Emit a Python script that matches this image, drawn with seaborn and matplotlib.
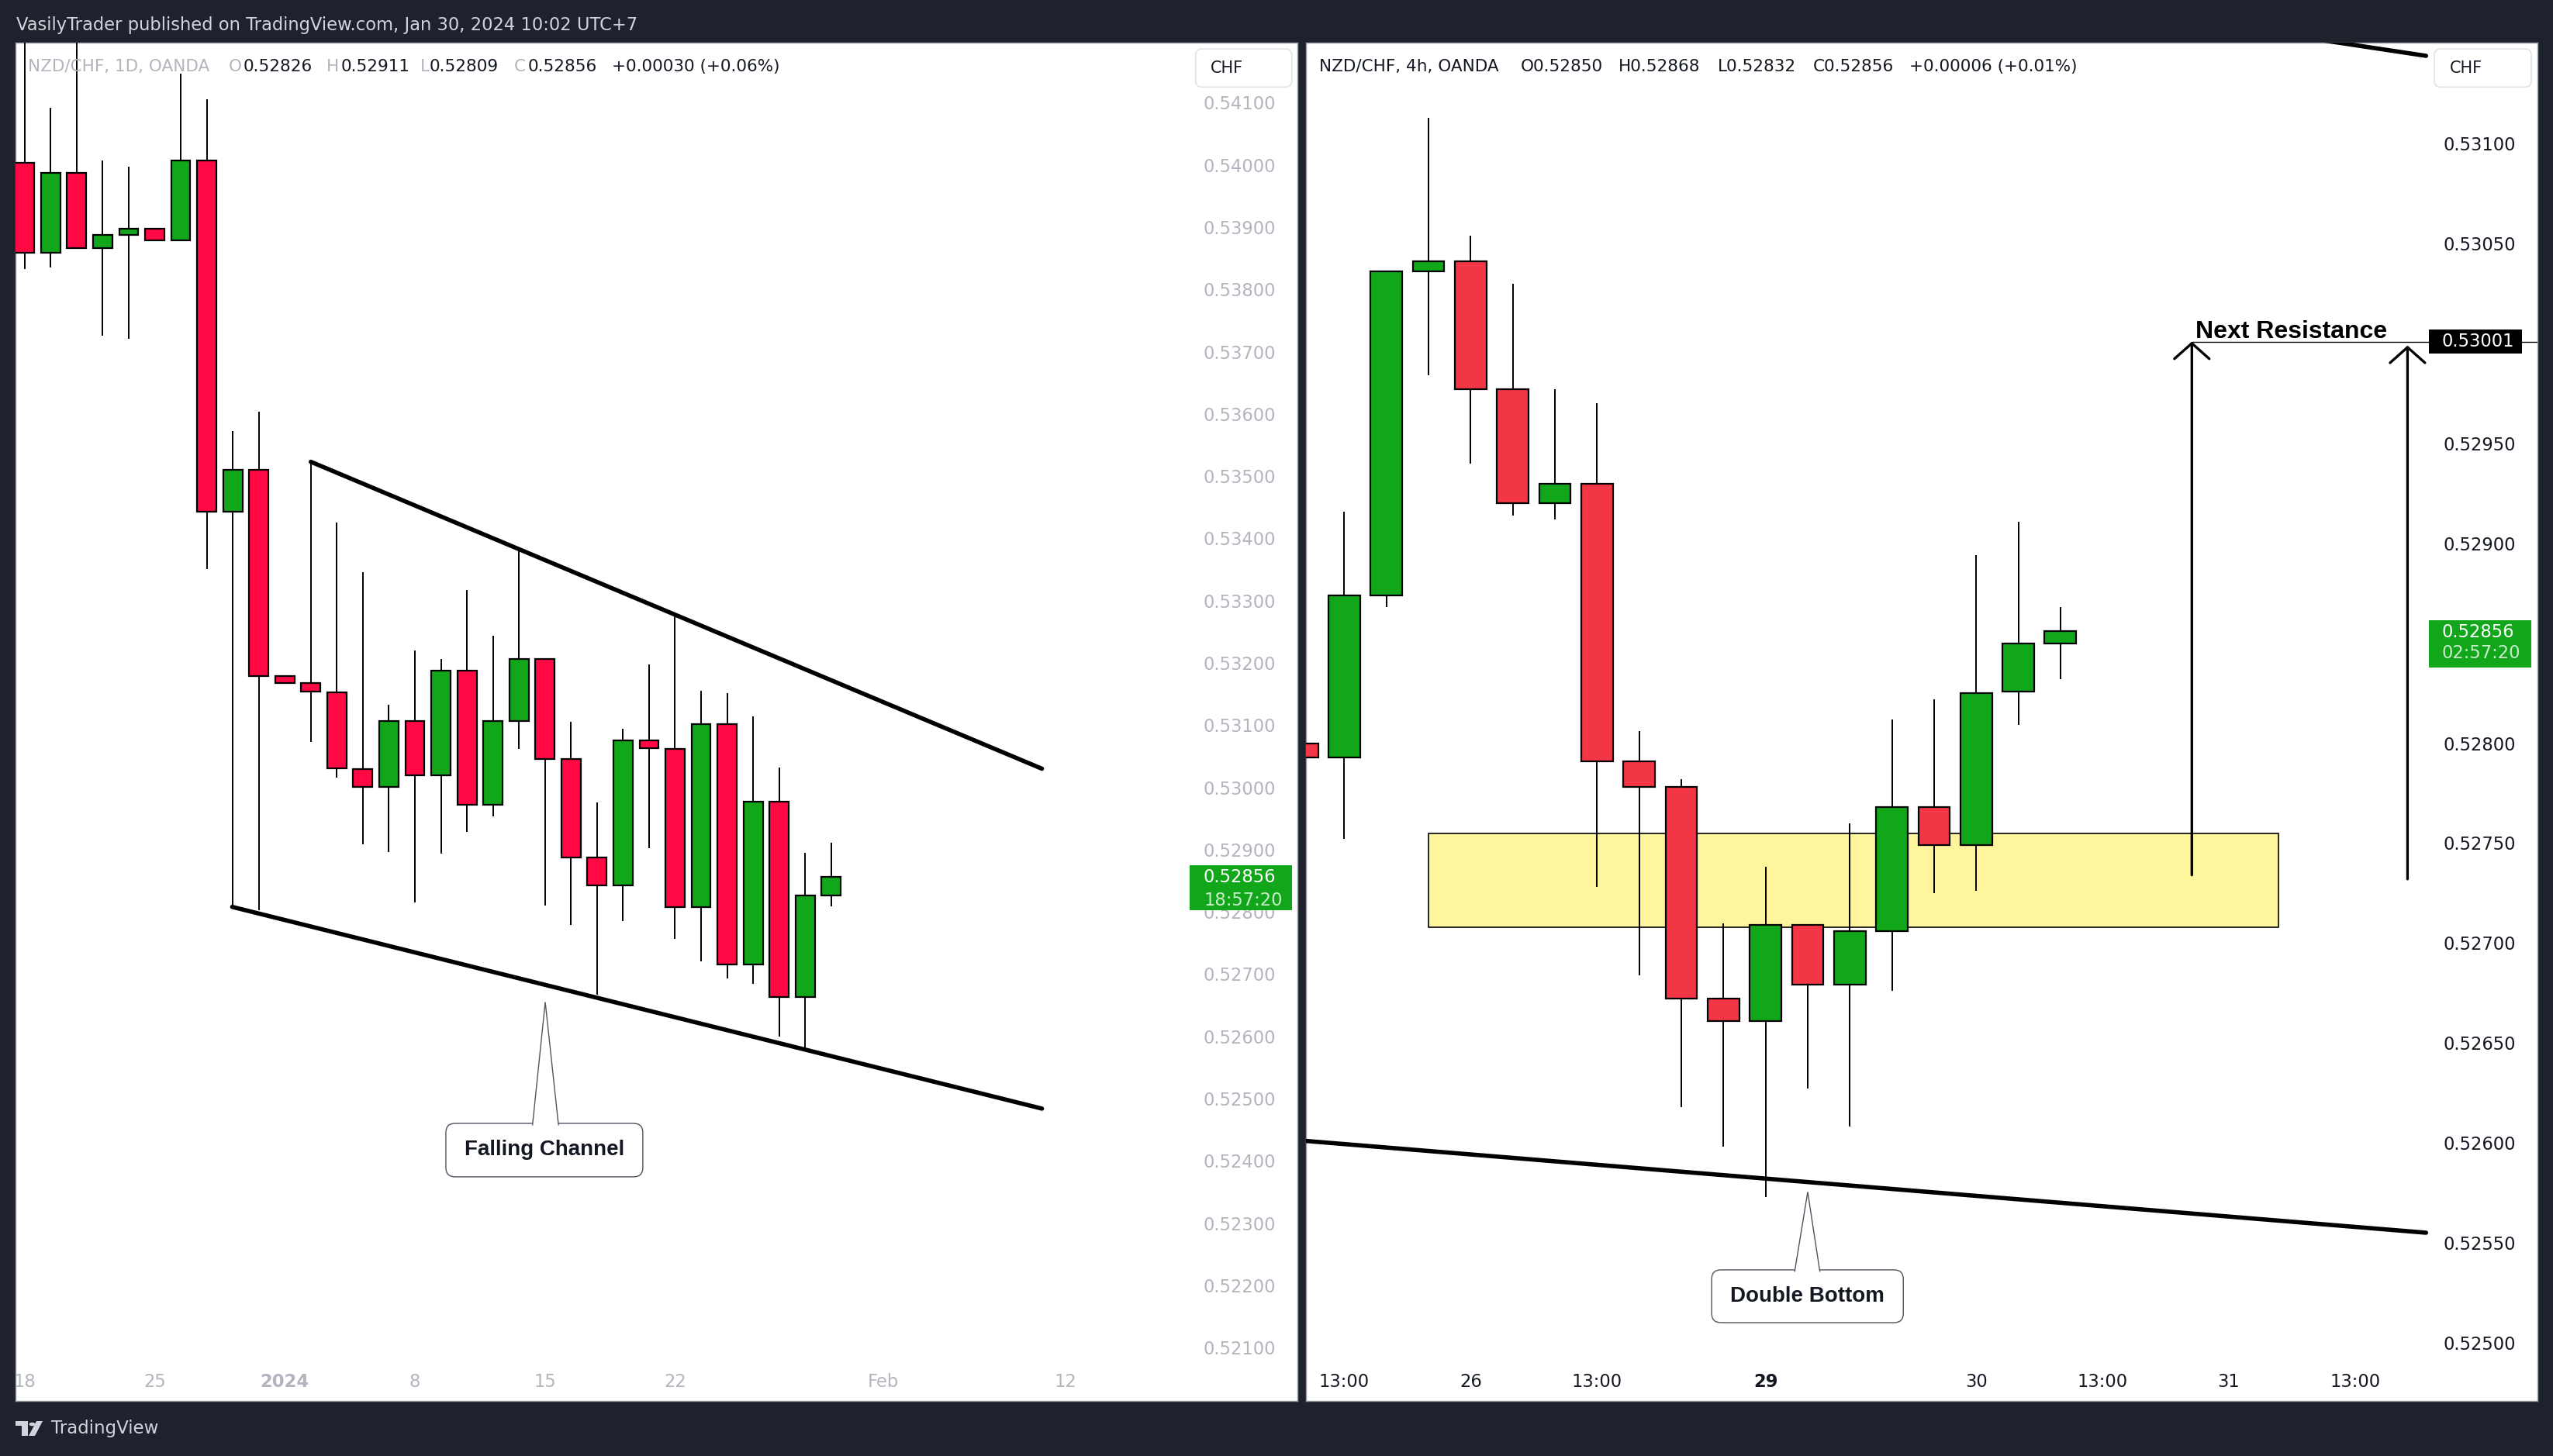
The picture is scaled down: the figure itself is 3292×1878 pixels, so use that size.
import numpy as np
import pandas as pd
import matplotlib.pyplot as plt
import seaborn as sns
from matplotlib.patches import Rectangle, FancyBboxPatch, Polygon, Circle

# --- data: NZD/CHF daily candles (left pane), 18 Dec 2023 .. 30 Jan 2024 ---
d_open = [0.54003, 0.53859, 0.53987, 0.53866, 0.53888, 0.53897, 0.53879, 0.54007,
          0.53443, 0.53510, 0.53179, 0.53167, 0.53153, 0.53030, 0.53001, 0.53107,
          0.53019, 0.53188, 0.52972, 0.53107, 0.53206, 0.53045, 0.52887, 0.52842,
          0.53076, 0.53062, 0.52808, 0.53102, 0.52715, 0.52977, 0.52663, 0.52826]
d_high = [0.54210, 0.54092, 0.54210, 0.54007, 0.53997, 0.53898, 0.54146, 0.54106,
          0.53572, 0.53603, 0.53180, 0.53524, 0.53426, 0.53346, 0.53133, 0.53220,
          0.53206, 0.53317, 0.53244, 0.53379, 0.53207, 0.53105, 0.52976, 0.53094,
          0.53198, 0.53277, 0.53155, 0.53152, 0.53114, 0.53032, 0.52895, 0.52911]
d_low = [0.53833, 0.53835, 0.53866, 0.53725, 0.53720, 0.53878, 0.53879, 0.53351,
         0.52808, 0.52803, 0.53166, 0.53073, 0.53016, 0.52908, 0.52896, 0.52815,
         0.52894, 0.52928, 0.52954, 0.53062, 0.52810, 0.52779, 0.52667, 0.52785,
         0.52902, 0.52757, 0.52720, 0.52693, 0.52684, 0.52600, 0.52576, 0.52809]
d_close = [0.53859, 0.53987, 0.53866, 0.53888, 0.53897, 0.53879, 0.54007, 0.53443,
           0.53510, 0.53179, 0.53167, 0.53154, 0.53031, 0.53001, 0.53107, 0.53019,
           0.53188, 0.52972, 0.53107, 0.53206, 0.53046, 0.52888, 0.52842, 0.53076,
           0.53063, 0.52808, 0.53102, 0.52715, 0.52977, 0.52663, 0.52826, 0.52856]
# trading-day ticks (bar number -> label)
d_tick_bar = [0, 5, 10, 15, 20, 25, 33, 40]
d_tick_lab = ['18', '25', '2024', '8', '15', '22', 'Feb', '12']

# --- data: NZD/CHF 4h candles (right pane), 25 Jan 09:00 .. 30 Jan 09:00 ---
h_open = [0.52800, 0.52793, 0.52874, 0.53036, 0.53041, 0.52977, 0.52920, 0.52930,
          0.52791, 0.52778, 0.52672, 0.52661, 0.52709, 0.52679, 0.52706, 0.52768,
          0.52749, 0.52826, 0.52850]
h_high = [0.52800, 0.52916, 0.53036, 0.53113, 0.53054, 0.53030, 0.52977, 0.52970,
          0.52806, 0.52782, 0.52710, 0.52738, 0.52709, 0.52760, 0.52812, 0.52822,
          0.52894, 0.52911, 0.52868]
h_low = [0.52793, 0.52752, 0.52868, 0.52984, 0.52940, 0.52914, 0.52912, 0.52728,
         0.52684, 0.52618, 0.52598, 0.52573, 0.52627, 0.52608, 0.52676, 0.52725,
         0.52726, 0.52809, 0.52832]
h_close = [0.52793, 0.52874, 0.53036, 0.53041, 0.52977, 0.52920, 0.52930, 0.52791,
           0.52778, 0.52672, 0.52661, 0.52709, 0.52679, 0.52706, 0.52768, 0.52749,
           0.52825, 0.52850, 0.52856]
h_tick_bar = [0, 3, 6, 10, 15, 18, 21, 24]
h_tick_lab = ['13:00', '26', '13:00', '29', '30', '13:00', '31', '13:00']

# price scale labels (the ones hidden behind the price tags are left out)
d_yticks = [0.541, 0.540, 0.539, 0.538, 0.537, 0.536, 0.535, 0.534, 0.533, 0.532,
            0.531, 0.530, 0.529, 0.528, 0.527, 0.526, 0.525, 0.524, 0.523, 0.522, 0.521]
h_yticks = [0.5310, 0.5305, 0.5295, 0.5290, 0.5280, 0.5275, 0.5270, 0.5265,
            0.5260, 0.5255, 0.5250]

# drawings (bar number, price)
chan_up = ([11.0, 39.1], [0.53523, 0.53030])
chan_dn = ([7.98, 39.1], [0.52808, 0.52484])
r_support = ([-0.95, 25.68], [0.52601, 0.52555])
r_top = ([20.0, 25.68], [0.53162, 0.53144])
zone_bars = [1.99, 22.18]
zone_prices = [0.52708, 0.52755]
resistance = 0.53001
arrow_bars = [20.12, 25.24]
arrow_from = [0.52734, 0.52732]
arrow_to = [0.53001, 0.52999]
last_price = 0.52856

BG = '#1E222D'
DARK = '#131722'
GREY = '#B2B5BE'
GREEN = '#12A61A'

sns.set_style('white')
plt.rcParams['font.family'] = ['DejaVu Sans']

W, H = 3292, 1878
fig = plt.figure(figsize=(W / 100, H / 100), dpi=100, facecolor=BG)


def fx(px):
    return px / W


def fy(py):
    return 1 - py / H


axL = fig.add_axes([fx(19.5), fy(1807), (1673 - 19.5) / W, (1807 - 55) / H])
axR = fig.add_axes([fx(1684), fy(1807), (3271.7 - 1684) / W, (1807 - 55) / H])


def candles(ax, x, o, h, l, c, up, down, width):
    o, h, l, c = map(np.asarray, (o, h, l, c))
    col = np.where(c >= o, up, down)
    ax.vlines(x, l, h, color='black', linewidth=1.4, zorder=3)
    ax.bar(x, np.abs(c - o), width, bottom=np.minimum(o, c), color=col,
           edgecolor='black', linewidth=1.6, zorder=4)


def callout(ax, text, bx, by, tip, base, ppx, ppy):
    r = 12 / ppx
    ax.add_patch(FancyBboxPatch((bx[0], by[0]), bx[1] - bx[0], by[1] - by[0],
                                boxstyle=f'round,pad=0,rounding_size={r}',
                                mutation_aspect=ppx / ppy, fc='white',
                                ec='#50535E', lw=1.0, zorder=7))
    yb = by[1] - 2.5 / ppy
    ax.add_patch(Polygon([(base[0], yb), tip, (base[1], yb)], closed=False,
                         fc='white', ec='#50535E', lw=1.0, zorder=8))
    ax.text((bx[0] + bx[1]) / 2, (by[0] + by[1]) / 2, text, ha='center',
            va='center', fontsize=20, fontweight='bold', color=DARK,
            family='Liberation Sans', zorder=9)


# ---------------- left pane (1D) ----------------
dx = np.arange(len(d_open))
candles(axL, dx, d_open, d_high, d_low, d_close, GREEN, '#FF0844', 0.74)
for xs, ys in (chan_up, chan_dn):
    sns.lineplot(x=xs, y=ys, ax=axL, color='black', linewidth=4.0,
                 solid_capstyle='round', zorder=5)
callout(axL, 'Falling Channel', (16.19, 23.76), (0.523744, 0.524603),
        (20.01, 0.526551), (19.52, 20.52), 33.55, 80300)

axL.set_xlim(-0.365, 48.92)
axL.set_ylim(0.520144, 0.541963)

# ---------------- right pane (4h) ----------------
hx = np.arange(len(h_open)) - 1
axR.add_patch(Rectangle((zone_bars[0], zone_prices[0]), zone_bars[1] - zone_bars[0],
                        zone_prices[1] - zone_prices[0], fc='#FFF59D', ec='black',
                        lw=1.2, zorder=2))
candles(axR, hx, h_open, h_high, h_low, h_close, GREEN, '#F23645', 0.75)
for xs, ys in (r_support, r_top):
    sns.lineplot(x=xs, y=ys, ax=axR, color='black', linewidth=4.0,
                 solid_capstyle='round', zorder=5)
for bx, y0, y1 in zip(arrow_bars, arrow_from, arrow_to):
    axR.annotate('', xy=(bx, y1), xytext=(bx, y0),
                 arrowprops=dict(arrowstyle='->,head_length=0.4,head_width=0.45',
                                 lw=2.4, color='black', shrinkA=0, shrinkB=0,
                                 mutation_scale=36), zorder=6)
axR.hlines(resistance, arrow_bars[0], 28.32, color='black', lw=1.0, zorder=6)
axR.text(20.2, 0.530028, 'Next Resistance', ha='left', va='baseline', fontsize=23,
         fontweight='bold', color='black', family='Liberation Sans', zorder=7)
callout(axR, 'Double Bottom', (8.72, 13.27), (0.52510, 0.525364),
        (11.0, 0.525754), (10.69, 11.29), 54.31, 257700)

axR.set_xlim(-0.911, 28.32)
axR.set_ylim(0.524708, 0.531506)

# ---------------- axes cosmetics ----------------
for ax, xt, xl, yt, col, bold in ((axL, d_tick_bar, d_tick_lab, d_yticks, GREY, '2024'),
                                  (axR, h_tick_bar, h_tick_lab, h_yticks, DARK, '29')):
    ax.set_xlabel('')
    ax.set_ylabel('')
    ax.set_facecolor('white')
    ax.grid(False)
    ax.set_xticks(xt, xl)
    ax.set_yticks(yt, [f'{v:.5f}' for v in yt])
    ax.yaxis.tick_right()
    ax.tick_params(axis='y', length=0, pad=-87.5, labelsize=16.3, labelcolor=col)
    ax.tick_params(axis='x', length=0, pad=-26, labelsize=16.3, labelcolor=col)
    for lab in ax.get_xticklabels():
        if lab.get_text() == bold:
            lab.set_fontweight('bold')
    for sp in ax.spines.values():
        sp.set_color('#9598A1')
        sp.set_linewidth(1.0)

# CHF unit boxes
for ax, x0, x1, tx in ((axL, 0.9206, 0.9956, 0.932), (axR, 0.9164, 0.9952, 0.929)):
    ax.add_patch(FancyBboxPatch((x0, 0.96729), x1 - x0, 0.02814,
                                boxstyle='round,pad=0,rounding_size=0.005',
                                transform=ax.transAxes, fc='white', ec='#E0E3EB',
                                lw=1.2, zorder=10, clip_on=False))
    ax.text(tx, 0.98139, 'CHF', transform=ax.transAxes, ha='left', va='center',
            fontsize=15, color=DARK, zorder=11)

# last price labels
tL = axL.get_yaxis_transform()
axL.add_patch(Rectangle((0.9159, 0.528024), 0.0799, 0.000728, transform=tL,
                        fc=GREEN, ec='none', zorder=10, clip_on=False))
axL.text(0.9266, last_price, f'{last_price:.5f}', transform=tL, ha='left',
         va='center', fontsize=16.3, color='white', zorder=11)
axL.text(0.9274, 0.528189, '18:57:20', transform=tL, ha='left', va='center',
         fontsize=16.3, color='#C9ECCB', zorder=11)

tR = axR.get_yaxis_transform()
axR.add_patch(Rectangle((0.912, 0.528379), 0.0832, 0.000236, transform=tR,
                        fc=GREEN, ec='none', zorder=10, clip_on=False))
axR.text(0.9227, 0.528555, f'{last_price:.5f}', transform=tR, ha='left',
         va='center', fontsize=16.3, color='white', zorder=11)
axR.text(0.9227, 0.528449, '02:57:20', transform=tR, ha='left', va='center',
         fontsize=16.3, color='#C9ECCB', zorder=11)
axR.add_patch(Rectangle((0.912, 0.529952), 0.0755, 0.00012, transform=tR,
                        fc='black', ec='none', zorder=10, clip_on=False))
axR.text(0.9227, resistance, f'{resistance:.5f}', transform=tR, ha='left',
         va='center', fontsize=16.3, color='white', zorder=11)

# ---------------- header / legends ----------------
fig.text(fx(21), fy(33), 'VasilyTrader published on TradingView.com, Jan 30, 2024 10:02 UTC+7',
         color='#D1D4DC', fontsize=16.3, va='center')
left_legend = [('NZD/CHF, 1D, OANDA', 36, GREY), ('O', 295, GREY), ('0.52826', 314, DARK),
               ('H', 421, GREY), ('0.52911', 440, DARK), ('L', 542, GREY),
               ('0.52809', 554, DARK), ('C', 663, GREY), ('0.52856', 681, DARK),
               ('+0.00030 (+0.06%)', 789, DARK)]
for s, x, c in left_legend:
    fig.text(fx(x), fy(86), s, color=c, fontsize=15.5, va='center', ha='left')
right_legend = [('NZD/CHF, 4h, OANDA', 1701), ('O0.52850', 1961), ('H0.52868', 2087),
                ('L0.52832', 2215), ('C0.52856', 2338), ('+0.00006 (+0.01%)', 2462)]
for s, x in right_legend:
    fig.text(fx(x), fy(86), s, color=DARK, fontsize=15.5, va='center', ha='left')

# TradingView logo
LOGO = '#D1D4DC'
for (x, y, w, h) in ((19.5, 1833, 16, 6), (28, 1833, 7.5, 19)):
    fig.add_artist(Rectangle((fx(x), fy(y + h)), w / W, h / H, transform=fig.transFigure,
                             fc=LOGO, ec='none'))
fig.add_artist(Circle((fx(41.5), fy(1837)), 4 / W, transform=fig.transFigure, fc=LOGO, ec='none'))
fig.add_artist(Polygon([(fx(47), fy(1833)), (fx(55), fy(1833)), (fx(45), fy(1852)),
                        (fx(37), fy(1852))], closed=True, transform=fig.transFigure,
                       fc=LOGO, ec='none'))
fig.text(fx(66), fy(1843), 'TradingView', color=LOGO, fontsize=16.5, va='center', ha='left')

fig.savefig('out.png', dpi=100, facecolor=fig.get_facecolor())
